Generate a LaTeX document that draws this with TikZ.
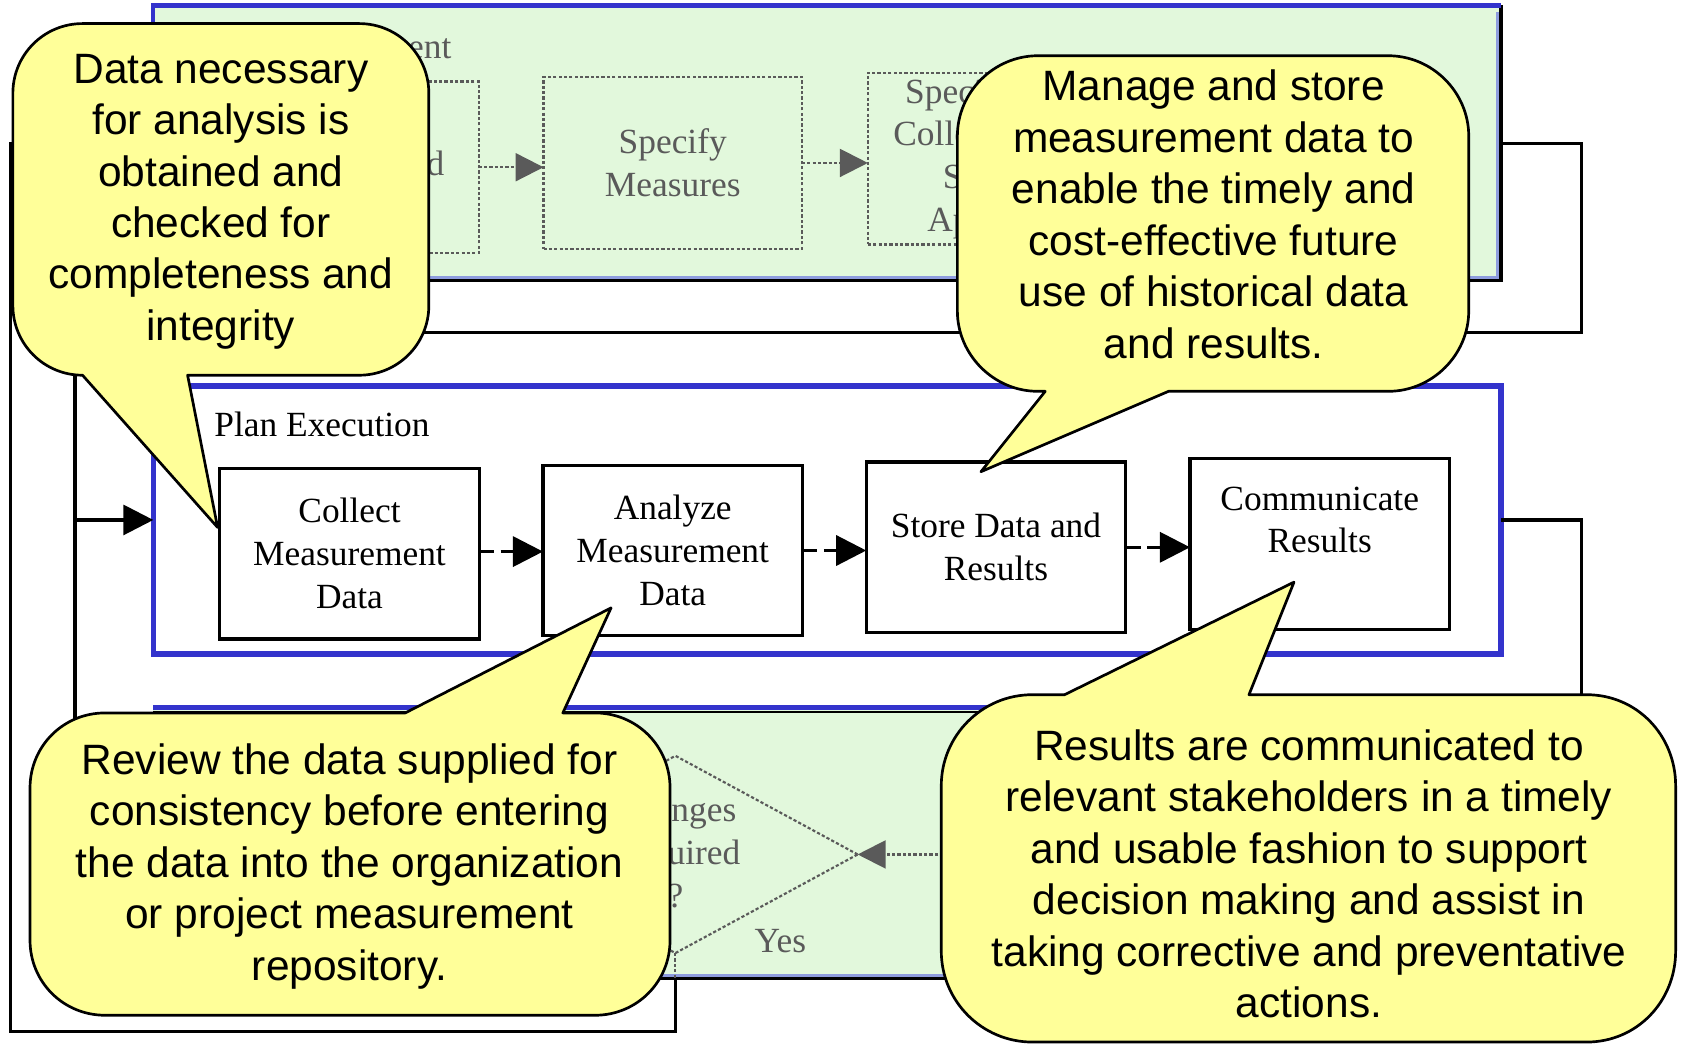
\documentclass[tikz,border=0pt]{standalone}
\usepackage{fontspec}
\setmainfont{Liberation Serif}
\newfontfamily\calloutfont{Liberation Sans}
\usetikzlibrary{arrows.meta,shapes.geometric}

\definecolor{panelblue}{HTML}{3333CC}
\definecolor{panelgreen}{HTML}{E2F8DC}
\definecolor{edgestrip}{HTML}{8E9CDE}
\definecolor{noteyellow}{HTML}{FFFF99}
\definecolor{fadedink}{HTML}{5A5A5A}

\begin{document}
\begin{tikzpicture}[x=1pt,y=-1pt,
  every node/.style={inner sep=0pt, outer sep=0pt},
  boxfont/.style={font=\fontsize{33}{40}\selectfont},
  procbox/.style={draw=black, line width=3pt, fill=white, minimum width=242pt,
    minimum height=159pt, align=center, boxfont},
  faintbox/.style={draw=fadedink, dash pattern=on 3pt off 2pt, line width=2pt,
    minimum width=241pt, minimum height=160pt, align=center, boxfont, text=fadedink},
  flowline/.style={draw=black, line width=3pt},
  flowarrow/.style={flowline, -{Triangle[length=28pt,width=28pt]}},
  stubarrow/.style={flowarrow, dash pattern=on 14pt off 6pt},
  fadedline/.style={draw=fadedink, line width=2pt, dash pattern=on 3pt off 2pt},
  fadedarrow/.style={fadedline, -{Triangle[length=26pt,width=26pt]}},
  note/.style={fill=noteyellow, draw=black, line width=2.5pt, line join=round},
  notetext/.style={font=\calloutfont\fontsize{39.6}{48}\selectfont, align=center},
]
\useasboundingbox (0,0) rectangle (1568,976);
\fill[white] (0,0) rectangle (1568,976);

% ---------- top panel: plan development ----------
\node[fill=panelgreen, minimum width=1257pt, minimum height=257pt] (devpanel) at (771.5,133.5) {};
\draw[edgestrip, line width=3pt] ([xshift=-3pt,yshift=3pt]devpanel.south west) -- ([xshift=-3pt,yshift=3pt]devpanel.south east) -- ([xshift=-3pt,yshift=-6pt]devpanel.north east);
\draw[black, line width=3pt] (devpanel.north east) -- (devpanel.south east) -- (devpanel.south west);
\draw[panelblue, line width=4pt] (devpanel.south west) -- (devpanel.north west) -- (devpanel.north east);
\node[boxfont, text=fadedink, anchor=east] (devtitle) at (421,47) {Plan Development};
\node[faintbox] (establish) at (326,156) {Establish\\Priorities and\\Objectives};
\node[faintbox] (specmeas) at (627.5,152) {Specify\\Measures};
\node[faintbox] (speccoll) at (930,148) {Specify Data\\Collection and\\Storage\\Approach};
\draw[fadedarrow] (establish.east) -- (establish.east -| specmeas.west);
\draw[fadedarrow] (specmeas.east) -- (specmeas.east -| speccoll.west);

% ---------- middle panel: plan execution ----------
\node[draw=panelblue, line width=5pt, fill=white, minimum width=1257pt, minimum height=250pt] (execpanel) at (771.5,485) {};
\node[boxfont, anchor=west] (exectitle) at (200,396) {Plan Execution};
\node[procbox] (collect) at (326,516.5) {Collect\\Measurement\\Data};
\node[procbox] (analyze) at (627.5,513.5) {Analyze\\Measurement\\Data};
\node[procbox] (store) at (929,510.5) {Store Data and\\Results};
\node[procbox] (communicate) at (1231,507.5) {};
\node[boxfont, align=center] (communicatelbl) at (1231,485) {Communicate\\Results};
\draw[stubarrow] (collect.east) ++(0,-2) -- (analyze.west |- 0,514.5);
\draw[stubarrow] (analyze.east) -- (analyze.east -| store.west);
\draw[stubarrow] (store.east) -- (store.east -| communicate.west);

% ---------- bottom panel: evaluation ----------
\node[fill=panelgreen, minimum width=1257pt, minimum height=253pt] (evalpanel) at (771.5,786.5) {};
\draw[edgestrip, line width=3pt] ([yshift=3pt]evalpanel.south west) -- ([yshift=3pt]evalpanel.south east);
\draw[black, line width=3pt] (evalpanel.south west) -- (evalpanel.south east);
\draw[black, line width=2pt] ([yshift=-4pt]evalpanel.north west) -- ([yshift=-4pt]evalpanel.north east);
\draw[panelblue, line width=5pt] (evalpanel.north west) -- (evalpanel.north east);
\node[diamond, fadedline, minimum width=340pt, minimum height=184pt] (changes) at (630,797) {};
\node[boxfont, text=fadedink, align=center] (changeslbl) at (630,795) {Changes\\Required\\?};
\node[boxfont, text=fadedink] (yeslbl) at (728,878) {Yes};
\coordinate (evalsrc) at (930,797);
\draw[fadedarrow] (evalsrc) -- (changes.east);

% ---------- loop connectors ----------
\coordinate (rtop) at (1475,310);
\coordinate (ltop) at (70,310);
\coordinate (lbot) at (70,700);
\coordinate (rbot) at (1475,720);
\coordinate (outerleft) at (10,962);
\draw[flowarrow] (devpanel.east) -| (rtop) -- (ltop) |- (execpanel.west);
\draw[flowline] (lbot) -- (ltop |- execpanel.west);
\draw[flowline] (execpanel.east) -| (rbot);
\draw[fadedline] (changes.south) -- (changes.south |- evalpanel.south);
\draw[flowline] (changes.south |- evalpanel.south) |- (outerleft) |- (devpanel.west);

% ---------- callouts ----------
\draw[note] (77,22) -- (335,22) .. controls (371,22) and (400,51) .. (400,87)
  -- (400,285) .. controls (400,321) and (371,350) .. (335,350)
  -- (175,350) -- (203,492) -- (77,350)
  .. controls (41,350) and (12,321) .. (12,285)
  -- (12,87) .. controls (12,51) and (41,22) .. (77,22) -- cycle;
\node[notetext] (notecollect) at (206,188) {Data necessary\\for analysis is\\obtained and\\checked for\\completeness and\\integrity};

\draw[note] (968,52) -- (1295,52) .. controls (1336,52) and (1370,86) .. (1370,127)
  -- (1370,290) .. controls (1370,331) and (1336,365) .. (1295,365)
  -- (1090,365) -- (915,440) -- (975,365) -- (968,365)
  .. controls (927,365) and (893,331) .. (893,290)
  -- (893,127) .. controls (893,86) and (927,52) .. (968,52) -- cycle;
\node[notetext] (notestore) at (1132,200) {Manage and store\\measurement data to\\enable the timely and\\cost-effective future\\use of historical data\\and results.};

\draw[note] (98,665) -- (378,665) -- (570,567) -- (525,665) -- (555,665)
  .. controls (594,665) and (625,696) .. (625,735)
  -- (625,877) .. controls (625,916) and (594,947) .. (555,947)
  -- (98,947) .. controls (59,947) and (28,916) .. (28,877)
  -- (28,735) .. controls (28,696) and (59,665) .. (98,665) -- cycle;
\node[notetext] (noteanalyze) at (326,808) {Review the data supplied for\\consistency before entering\\the data into the organization\\or project measurement\\repository.};

\draw[note] (963,648) -- (993,648) -- (1207,543) -- (1165,648) -- (1480,648)
  .. controls (1527,648) and (1563,686) .. (1563,733)
  -- (1563,887) .. controls (1563,934) and (1527,972) .. (1480,972)
  -- (963,972) .. controls (916,972) and (878,934) .. (878,887)
  -- (878,733) .. controls (878,686) and (916,648) .. (963,648) -- cycle;
\node[notetext] (notecommunicate) at (1221,815) {Results are communicated to\\relevant stakeholders in a timely\\and usable fashion to support\\decision making and assist in\\taking corrective and preventative\\actions.};
\end{tikzpicture}
\end{document}
